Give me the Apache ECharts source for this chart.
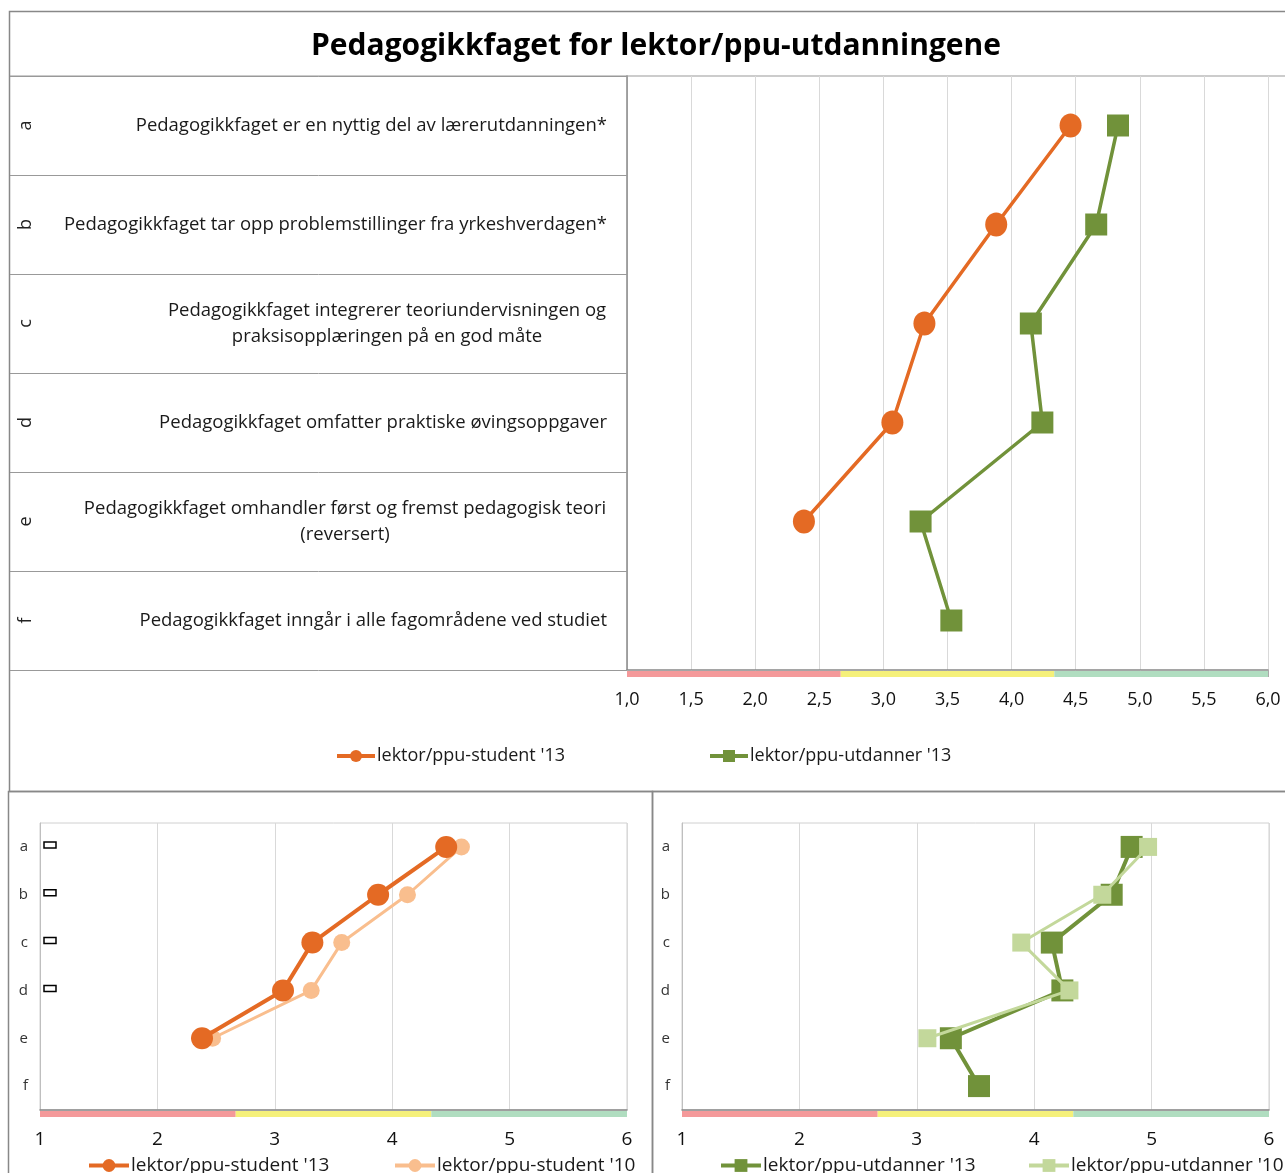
<!DOCTYPE html>
<html>
<head>
<meta charset="utf-8">
<script src="https://cdn.jsdelivr.net/npm/echarts@6/dist/echarts.min.js"></script>
<style>
  html, body { margin: 0; padding: 0; background: #fff; }
  #chart { width: 1285px; height: 1173px; }
</style>
</head>
<body>
<div id="chart"></div>
<script>
// categories and statements
const categories = ['a', 'b', 'c', 'd', 'e', 'f'];
const statements = [
  'Pedagogikkfaget er en nyttig del av lærerutdanningen*',
  'Pedagogikkfaget tar opp problemstillinger fra yrkeshverdagen*',
  'Pedagogikkfaget integrerer teoriundervisningen og\npraksisopplæringen på en god måte',
  'Pedagogikkfaget omfatter praktiske øvingsoppgaver',
  'Pedagogikkfaget omhandler først og fremst pedagogisk teori\n(reversert)',
  'Pedagogikkfaget inngår i alle fagområdene ved studiet'
];

// mean scores (null = not asked)
const student13 = [4.46, 3.88, 3.32, 3.07, 2.38, null];
const utdanner13 = [4.83, 4.66, 4.15, 4.24, 3.29, 3.53];
const student10 = [4.59, 4.13, 3.57, 3.31, 2.47, null];
const utdanner10 = [4.97, 4.58, 3.89, 4.30, 3.09, null];

// scale bands under the axis: [from, to, colourIndex]
const bands = [[1, 2.667, 0], [2.667, 4.333, 1], [4.333, 6, 2]];
const bandColors = ['#F4999A', '#F5F07A', '#B0DDC0'];

const FONT = 'Open Sans';
const LABEL_SIZE = 18.5;
const orange = '#E46A24';
const green = '#71923A';
const lightOrange = '#F9BE8E';
const lightGreen = '#C3D89B';

const toPoints = (vals) =>
  vals.map((v, i) => (v == null ? null : [v, categories[i]])).filter(Boolean);

// multi-line statements: lines centred under each other, block right-aligned
const ctx = document.createElement('canvas').getContext('2d');
ctx.font = LABEL_SIZE + 'px "' + FONT + '"';
const statementRich = {};
statements.forEach((s, i) => {
  const lines = s.split('\n');
  if (lines.length > 1) {
    const w = Math.max(...lines.map((l) => ctx.measureText(l).width));
    statementRich['s' + i] = {
      width: Math.ceil(w) + 1,
      align: 'center',
      fontFamily: FONT,
      fontSize: LABEL_SIZE,
      color: '#1a1a1a',
      lineHeight: 26
    };
  }
});
const statementLabel = (v, i) => {
  const lines = statements[i].split('\n');
  if (lines.length === 1) return statements[i];
  return lines.map((l) => '{s' + i + '|' + l + '}').join('\n');
};

const renderBand = (params, api) => {
  const cs = params.coordSys;
  const x0 = api.coord([api.value(0), 0])[0];
  const x1 = api.coord([api.value(1), 0])[0];
  return {
    type: 'rect',
    shape: { x: x0, y: cs.y + cs.height + 1, width: x1 - x0, height: 6 },
    style: { fill: bandColors[api.value(2)] }
  };
};

const bandSeries = (idx) => ({
  type: 'custom',
  xAxisIndex: idx,
  yAxisIndex: idx === 0 ? 0 : idx + 1,
  renderItem: renderBand,
  data: bands,
  encode: { x: [0, 1] },
  clip: false,
  silent: true,
  z: 1
});

const lineSeries = (name, vals, color, symbol, size, width, xi, yi, z) => ({
  name,
  type: 'line',
  xAxisIndex: xi,
  yAxisIndex: yi,
  data: toPoints(vals),
  symbol,
  symbolSize: size,
  itemStyle: { color },
  lineStyle: { color, width },
  z,
  animation: false
});

const legendItem = (name, left, top, size, w, h) => ({
  data: [name],
  left,
  top,
  itemWidth: w,
  itemHeight: h,
  lineStyle: { width: 4 },
  textStyle: { fontFamily: FONT, fontSize: size, color: '#1a1a1a', padding: [0, 0, 0, -3] }
});

const chart = echarts.init(document.getElementById('chart'));

const smallX = (gi) => ({
  type: 'value',
  gridIndex: gi,
  min: 1,
  max: 6,
  interval: 1,
  axisLine: { show: true, lineStyle: { color: '#888', width: 1.5 } },
  axisTick: { show: false },
  splitLine: { lineStyle: { color: '#D9D9D9' } },
  axisLabel: { fontFamily: FONT, fontSize: 19, color: '#111', margin: 20 }
});

const smallY = (gi) => ({
  type: 'category',
  gridIndex: gi,
  inverse: true,
  data: categories,
  axisLine: { show: true, lineStyle: { color: '#BFBFBF' } },
  axisTick: { show: false },
  axisLabel: { fontFamily: FONT, fontSize: 15, color: '#333', margin: 12 }
});

// tofu boxes next to the bottom-left category labels
const boxes = [];
for (let i = 0; i < 4; i++) {
  boxes.push({
    type: 'rect',
    shape: { x: 44, y: 823 + (i + 0.5) * (287 / 6) - 5, width: 12, height: 6 },
    style: { fill: '#fff', stroke: '#000', lineWidth: 1.5 }
  });
}

chart.setOption({
  backgroundColor: '#fff',
  animation: false,
  textStyle: { fontFamily: FONT },
  title: {
    text: 'Pedagogikkfaget for lektor/ppu-utdanningene',
    left: 651,
    top: 26,
    textAlign: 'center',
    textStyle: { fontFamily: FONT, fontSize: 30, fontWeight: 'bold', color: '#000' }
  },
  grid: [
    { left: 627, top: 76, width: 641, height: 594 },
    { left: 40, top: 823, width: 587, height: 287, show: true, borderColor: '#D0D0D0', borderWidth: 1 },
    { left: 682, top: 823, width: 587, height: 287, show: true, borderColor: '#D0D0D0', borderWidth: 1 }
  ],
  xAxis: [
    {
      type: 'value',
      gridIndex: 0,
      min: 1,
      max: 6,
      interval: 0.5,
      axisLine: { show: true, lineStyle: { color: '#888', width: 1.5 } },
      axisTick: { show: true, length: 7, lineStyle: { color: '#AAA' } },
      splitLine: { lineStyle: { color: '#D9D9D9' } },
      axisLabel: {
        fontFamily: FONT,
        fontSize: 18,
        color: '#111',
        margin: 21,
        formatter: (v) => v.toFixed(1).replace('.', ',')
      }
    },
    smallX(1),
    smallX(2)
  ],
  yAxis: [
    {
      type: 'category',
      gridIndex: 0,
      inverse: true,
      data: categories,
      axisLine: { show: true, lineStyle: { color: '#888', width: 1.5 } },
      axisTick: { show: true, length: 617, lineStyle: { color: '#999' } },
      axisLabel: {
        fontFamily: FONT,
        fontSize: LABEL_SIZE,
        color: '#1a1a1a',
        margin: 20,
        lineHeight: 26,
        formatter: statementLabel,
        rich: statementRich
      }
    },
    {
      type: 'category',
      gridIndex: 0,
      inverse: true,
      position: 'left',
      offset: 584,
      data: categories,
      axisLine: { show: false },
      axisTick: { show: false },
      axisLabel: { fontFamily: FONT, fontSize: 18, color: '#222', rotate: 90, margin: 8 }
    },
    smallY(1),
    smallY(2)
  ],
  legend: [
    legendItem("lektor/ppu-student '13", 330, 742, 18, 38, 15),
    legendItem("lektor/ppu-utdanner '13", 703, 742, 18, 38, 15),
    legendItem("lektor/ppu-student '13 ", 82, 1151, 19, 40, 16),
    legendItem("lektor/ppu-student '10", 388, 1151, 19, 40, 16),
    legendItem("lektor/ppu-utdanner '13 ", 714, 1151, 19, 40, 16),
    legendItem("lektor/ppu-utdanner '10", 1022, 1151, 19, 40, 16)
  ],
  series: [
    bandSeries(0),
    bandSeries(1),
    bandSeries(2),
    lineSeries("lektor/ppu-student '13", student13, orange, 'circle', [22, 24], 3.5, 0, 0, 5),
    lineSeries("lektor/ppu-utdanner '13", utdanner13, green, 'rect', 22, 3.5, 0, 0, 5),
    lineSeries("lektor/ppu-student '10", student10, lightOrange, 'circle', 17, 3, 1, 2, 4),
    lineSeries("lektor/ppu-student '13 ", student13, orange, 'circle', 22, 4, 1, 2, 5),
    lineSeries("lektor/ppu-utdanner '10", utdanner10, lightGreen, 'rect', 18, 3, 2, 3, 5),
    lineSeries("lektor/ppu-utdanner '13 ", utdanner13, green, 'rect', 22, 4, 2, 3, 4)
  ],
  graphic: [
    { type: 'rect', shape: { x: 9.5, y: 11.5, width: 1290, height: 780 }, style: { fill: null, stroke: '#888', lineWidth: 1.5 }, z: -1 },
    { type: 'line', shape: { x1: 10, y1: 76, x2: 1285, y2: 76 }, style: { stroke: '#999', lineWidth: 1.2 } },
    { type: 'rect', shape: { x: 8.5, y: 791.5, width: 644, height: 400 }, style: { fill: null, stroke: '#888', lineWidth: 1.5 }, z: -1 },
    { type: 'rect', shape: { x: 652.5, y: 791.5, width: 640, height: 400 }, style: { fill: null, stroke: '#888', lineWidth: 1.5 }, z: -1 }
  ].concat(boxes)
});
</script>
</body>
</html>
